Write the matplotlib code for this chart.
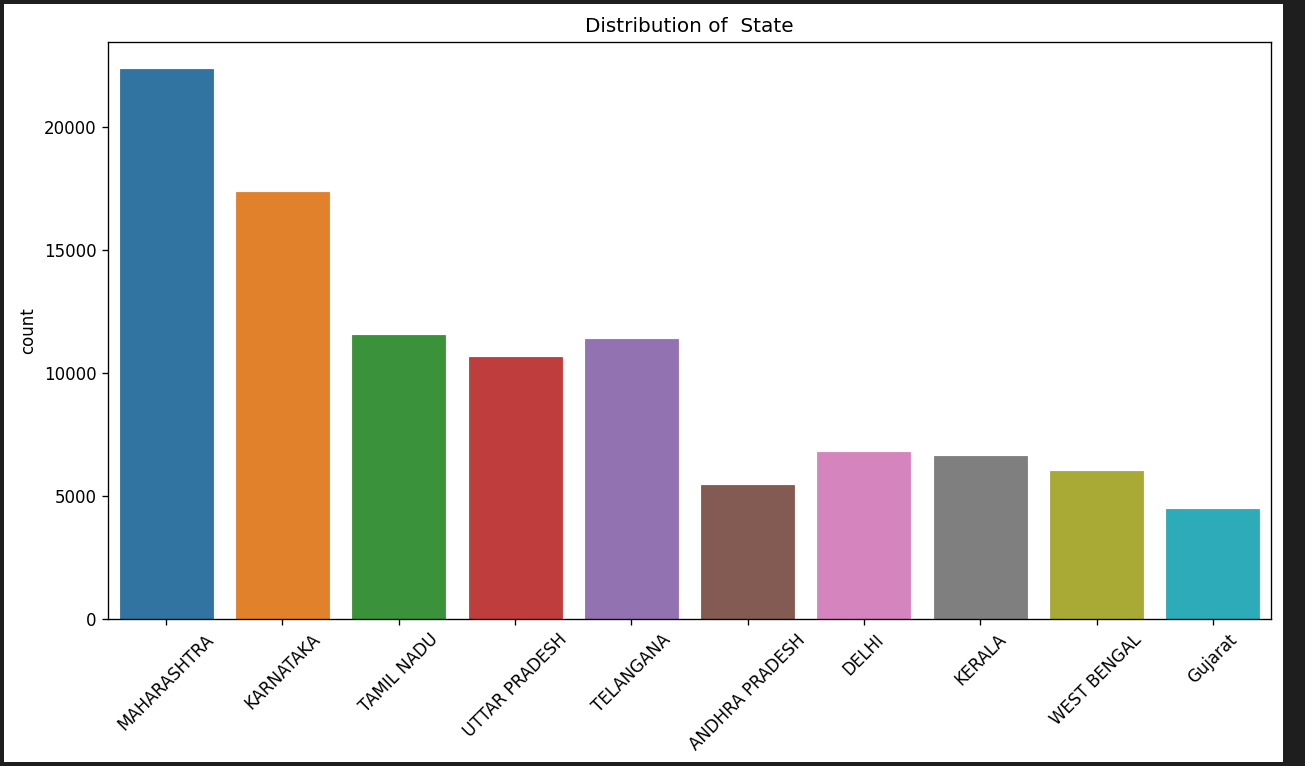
import matplotlib
matplotlib.use("Agg")
import matplotlib.pyplot as plt
from matplotlib.patches import Rectangle
import seaborn as sns

states = ["MAHARASHTRA", "KARNATAKA", "TAMIL NADU", "UTTAR PRADESH", "TELANGANA",
          "ANDHRA PRADESH", "DELHI", "KERALA", "WEST BENGAL", "Gujarat"]
counts = [22318, 17349, 11518, 10650, 11356, 5428, 6793, 6606, 5997, 4466]

W, H, DPI = 1305, 766, 120
fig = plt.figure(figsize=(W / DPI, H / DPI), dpi=DPI, facecolor="#1e1e1e")
fig.patches.append(Rectangle((4 / W, 4 / H), (1283 - 4) / W, (762 - 4) / H,
                             transform=fig.transFigure, facecolor="white",
                             edgecolor="none", zorder=-10))

left, right, top, bottom = 108, 1271, 42, 619
ax = fig.add_axes([left / W, (H - bottom) / H, (right - left) / W, (bottom - top) / H])

base = plt.get_cmap("tab10").colors
colors = [sns.desaturate(c, 0.75) for c in base]
x = list(range(len(states)))
ax.bar(x, counts, width=0.8, color=colors, edgecolor=colors, linewidth=0.5)
ax.set_xlim(-0.5, len(states) - 0.5)
ax.set_xticks(x)
ax.set_xticklabels(states, rotation=45)
ax.set_ylabel("count")
ax.set_title("Distribution of  State")

fig.savefig("out.png", dpi=DPI, facecolor=fig.get_facecolor())
